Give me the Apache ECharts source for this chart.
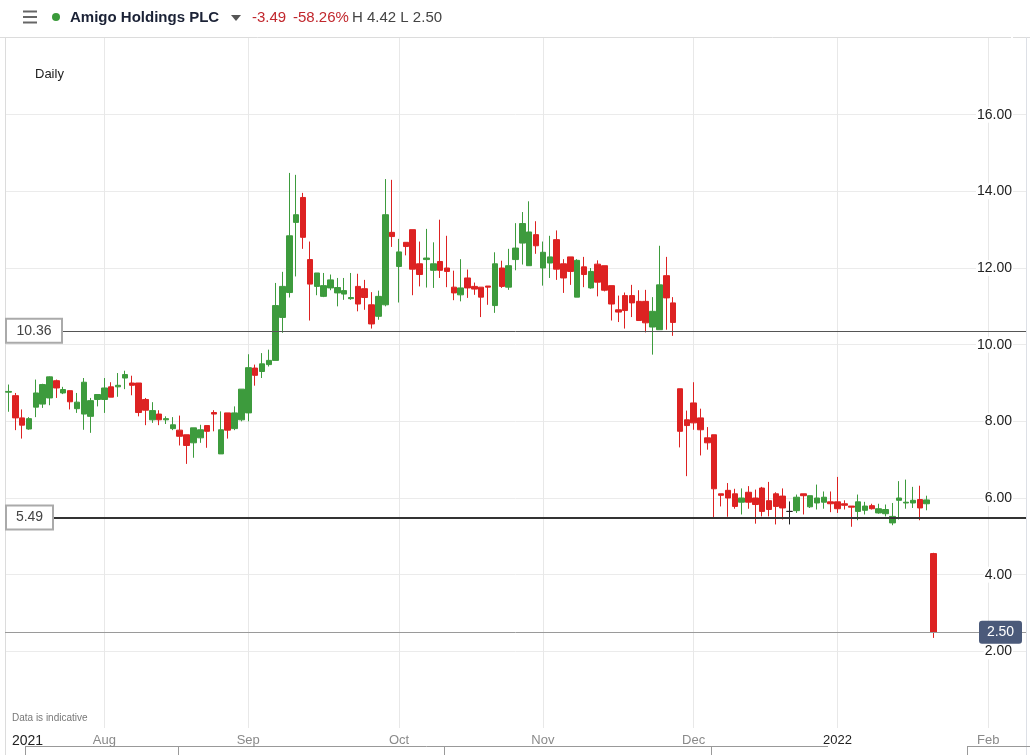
<!DOCTYPE html>
<html><head><meta charset="utf-8">
<script src="https://cdn.jsdelivr.net/npm/echarts@6/dist/echarts.min.js"></script>
<style>html,body{margin:0;padding:0;background:#fff}#c{width:1030px;height:755px}</style>
</head><body><div id="c"></div>
<script>
// ---- data ----
const instrument = 'Amigo Holdings PLC';
const changeAbs = '-3.49';
const changePct = '-58.26%';
const dayHigh = '4.42';
const dayLow = '2.50';
const holidays = ['2021-08-30', '2021-12-27', '2021-12-28', '2022-01-03'];
const firstTradeDate = '2021-07-13';
const lastTradeDate = '2022-01-24';
const futureDates = ['2022-01-25','2022-01-26','2022-01-27','2022-01-28','2022-01-29','2022-01-30','2022-01-31',
  '2022-02-01','2022-02-02','2022-02-03','2022-02-04','2022-02-05','2022-02-06'];
const monthNames = ['Jan','Feb','Mar','Apr','May','Jun','Jul','Aug','Sep','Oct','Nov','Dec'];
const yTicks = [2, 4, 6, 8, 10, 12, 14, 16];
const priceLevels = [10.36, 5.49, 2.50];
// [open, close, low, high]
const ohlc = [
 [8.76,8.78,8.25,8.96],[8.67,8.09,7.77,8.74],[8.09,7.90,7.55,8.31],[7.80,8.07,7.78,8.11],[8.37,8.74,8.11,9.09],
 [8.45,8.96,8.35,8.98],[8.61,9.16,8.42,9.17],[9.06,8.87,8.61,9.09],[8.74,8.83,8.71,8.90],[8.80,8.51,8.31,8.80],
 [8.33,8.50,8.22,8.74],[8.19,9.02,7.78,9.13],[8.13,8.54,7.70,8.61],[8.57,8.70,8.39,8.70],[8.57,8.87,8.22,9.13],
 [8.90,8.63,8.63,9.02],[8.90,8.94,8.64,9.26],[9.13,9.22,8.84,9.32],[9.00,8.94,8.68,9.19],[9.00,8.23,8.13,9.00],
 [8.57,8.29,7.90,8.61],[8.04,8.28,7.96,8.50],[8.19,8.04,7.90,8.29],[8.04,8.07,7.93,8.13],[7.81,7.91,7.77,8.11],
 [7.77,7.61,7.37,8.15],[7.65,7.37,6.89,7.65],[7.44,7.83,7.05,7.83],[7.57,7.78,7.44,7.91],[7.89,7.74,7.31,7.89],
 [8.23,8.19,7.74,8.29],[7.15,7.78,7.15,8.26],[8.22,7.77,7.55,8.22],[7.81,8.22,7.77,8.39],[8.04,8.84,8.00,8.84],
 [8.22,9.40,8.00,9.75],[9.39,9.20,8.93,9.48],[9.30,9.50,9.13,9.78],[9.48,9.59,9.43,9.87],[9.59,11.02,9.59,11.61],
 [10.71,11.52,10.31,11.90],[11.36,12.84,11.23,14.48],[13.19,13.39,11.78,14.43],[13.84,12.80,12.50,13.96],[12.22,11.58,10.63,12.69],
 [11.52,11.87,11.29,11.87],[11.26,11.54,11.24,11.87],[11.48,11.69,11.42,11.83],[11.35,11.49,11.00,11.74],[11.32,11.41,11.17,11.74],
 [11.20,11.23,11.17,11.87],[11.52,11.06,10.87,11.85],[11.46,11.23,10.91,11.69],[11.04,10.54,10.42,11.37],[10.74,11.26,10.65,11.41],
 [11.04,13.39,11.00,14.32],[12.93,12.82,12.55,14.30],[12.04,12.42,11.10,12.76],[12.67,12.56,12.33,12.67],[13.00,11.97,11.29,13.00],
 [12.11,11.83,11.52,12.69],[12.22,12.26,11.49,13.02],[11.94,12.11,11.48,12.67],[12.17,11.94,11.74,13.26],[12.00,11.91,11.50,12.84],
 [11.50,11.35,11.16,11.93],[11.30,11.48,11.13,12.23],[11.74,11.48,11.22,11.96],[11.52,11.45,11.30,11.62],[11.50,11.24,10.72,11.50],
 [11.53,11.50,11.04,11.53],[11.02,12.11,10.83,12.41],[12.00,11.52,11.48,12.19],[11.50,12.06,11.43,12.50],[12.22,12.52,11.94,13.17],
 [12.65,13.16,12.09,13.46],[12.06,12.94,12.06,13.74],[12.87,12.58,12.37,13.22],[12.00,12.41,11.54,12.69],[12.13,12.29,11.74,12.84],
 [12.74,11.97,11.69,12.98],[12.11,11.74,11.35,12.23],[12.29,11.91,11.56,12.29],[11.24,12.20,11.24,12.23],[12.03,11.83,11.50,12.29],
 [11.48,11.91,11.46,12.00],[12.10,11.63,11.26,12.20],[12.06,11.42,11.39,12.06],[11.54,11.06,10.63,11.54],[10.91,10.85,10.59,11.28],
 [11.28,10.89,10.42,11.36],[11.28,11.09,10.72,11.56],[11.13,10.63,10.63,11.42],[11.13,10.57,10.32,11.43],[10.46,10.87,9.74,11.24],
 [10.39,11.56,10.39,12.58],[11.80,11.22,10.39,12.29],[11.09,10.58,10.23,11.24],[8.85,7.74,7.32,8.85],[8.04,7.89,6.57,8.28],
 [8.48,7.96,7.78,9.02],[8.09,7.78,7.11,8.33],[7.57,7.44,7.26,7.85],[7.65,6.24,5.46,7.65],[6.11,6.07,5.78,6.11],
 [6.20,6.00,5.51,6.39],[6.11,5.78,5.72,6.24],[5.89,6.00,5.57,6.25],[6.15,5.89,5.72,6.31],[6.00,5.83,5.33,6.22],
 [6.26,5.65,5.52,6.29],[5.93,5.70,5.52,6.42],[6.11,5.78,5.31,6.15],[6.05,5.74,5.44,6.25],[5.65,5.65,5.31,5.91],
 [5.67,6.02,5.61,6.09],[6.11,6.06,5.57,6.11],[5.77,6.06,5.74,6.06],[5.87,6.00,5.70,6.35],[5.89,6.02,5.72,6.17],
 [5.90,5.85,5.63,6.17],[5.90,5.72,5.61,6.55],[5.85,5.81,5.70,5.94],[5.79,5.76,5.25,5.79],[5.65,5.90,5.42,6.09],
 [5.68,5.79,5.57,5.90],[5.80,5.72,5.70,5.85],[5.61,5.72,5.59,5.85],[5.59,5.70,5.52,5.83],[5.35,5.52,5.29,5.87],
 [5.94,6.00,5.44,6.44],[5.87,5.89,5.72,6.48],[5.87,5.94,5.74,6.29],[5.96,5.74,5.42,6.32],[5.85,5.95,5.68,6.06],
 [4.55,2.50,2.35,4.57]
];

// ---- categories (trading calendar) ----
function iso(d){return d.toISOString().slice(0,10);}
function tradingDays(from, to){
  const out=[]; const d=new Date(from+'T00:00:00Z'); const end=new Date(to+'T00:00:00Z');
  while(d<=end){const wd=d.getUTCDay(); const s=iso(d);
    if(wd!==0 && wd!==6 && holidays.indexOf(s)<0) out.push(s);
    d.setUTCDate(d.getUTCDate()+1);}
  return out;
}
const tradeDates = tradingDays(firstTradeDate, lastTradeDate);
const dates = tradeDates.concat(futureDates);

function isMonthStart(i){
  if(i===0) return false;
  return dates[i].slice(0,7)!==dates[i-1].slice(0,7);
}
function monthLabel(s){
  const m=+s.slice(5,7);
  return m===1 ? '{y|'+s.slice(0,4)+'}' : '{m|'+monthNames[m-1]+'}';
}

const UP='#3d9b3d', DOWN='#dd2222';
const candleData = ohlc.map(function(r){
  if(r[0]===r[1]) return {value:r, itemStyle:{color:'#222',color0:'#222',borderColor:'#222',borderColor0:'#222'}};
  return r;
});

const FONT='"Liberation Sans", Arial, sans-serif';
const chart = echarts.init(document.getElementById('c'), null, {renderer:'canvas'});
const grid = {left:5, right:4, top:38, bottom:27};
chart.setOption({
  animation:false,
  backgroundColor:'#fff',
  textStyle:{fontFamily:FONT},
  grid: grid,
  xAxis:{
    type:'category', data:dates, boundaryGap:true,
    axisLine:{show:false}, axisTick:{show:false},
    axisLabel:{
      interval:function(i){return isMonthStart(i);},
      formatter:function(v){return monthLabel(v);},
      margin:6,
      rich:{y:{color:'#222',fontSize:13,fontFamily:FONT},m:{color:'#8a8a8a',fontSize:13,fontFamily:FONT}}
    },
    splitLine:{show:true, alignWithLabel:true, interval:function(i){return isMonthStart(i);}, lineStyle:{color:'#e8e8e8',width:1}}
  },
  yAxis:[{
    type:'value', position:'right', min:0, max:18, interval:2, scale:false,
    axisLine:{show:false}, axisTick:{show:false}, axisLabel:{show:false},
    splitLine:{show:true, lineStyle:{color:['rgba(0,0,0,0)','#ebebeb','#ebebeb','#ebebeb','#ebebeb','#ebebeb','#ebebeb','#ebebeb','#ebebeb','rgba(0,0,0,0)']}}
  },{
    type:'value', position:'right', min:0, max:18, interval:2, z:6,
    axisLine:{show:false}, axisTick:{show:false}, splitLine:{show:false},
    axisLabel:{inside:true, margin:13, color:'#222', fontSize:14, fontFamily:FONT,
      backgroundColor:'#fff', padding:[1,1],
      formatter:function(v){return yTicks.indexOf(v)>=0 ? v.toFixed(2) : '';}}
  }],
  series:[{
    type:'candlestick', yAxisIndex:0, data:candleData, barWidth:6,
    itemStyle:{color:UP, color0:DOWN, borderColor:UP, borderColor0:DOWN, borderWidth:1},
    markLine:{
      silent:true, symbol:['none','none'], label:{show:false}, animation:false,
      data:[
        {yAxis:priceLevels[0], lineStyle:{color:'#555',width:1,type:'solid'}},
        {yAxis:priceLevels[1], lineStyle:{color:'#333',width:2,type:'solid'}},
        {yAxis:priceLevels[2], lineStyle:{color:'#9a9a9a',width:1,type:'solid'}}
      ]
    }
  }]
});

// ---- decorations (boxes placed via the axis scale) ----
const yA = chart.convertToPixel({yAxisIndex:0}, priceLevels[0]);
const yB = chart.convertToPixel({yAxisIndex:0}, priceLevels[1]);
const yC = chart.convertToPixel({yAxisIndex:0}, priceLevels[2]);
function boxLeft(y, w, txt){
  return [
    {type:'rect', z:20, shape:{x:6, y:y-12, width:w, height:24}, style:{fill:'#fff', stroke:'#aaa', lineWidth:2}},
    {type:'text', z:21, x:6+w/2, y:y, style:{text:txt, fill:'#444', font:'14px '+FONT, textAlign:'center', textVerticalAlign:'middle'}}
  ];
}
const gfx = [
  // header
  {type:'line', shape:{x1:0,y1:37.5,x2:1030,y2:37.5}, style:{stroke:'#dcdcdc',lineWidth:1}},
  {type:'line', shape:{x1:23,y1:11.5,x2:37,y2:11.5}, style:{stroke:'#666',lineWidth:2}},
  {type:'line', shape:{x1:23,y1:17,x2:37,y2:17}, style:{stroke:'#666',lineWidth:2}},
  {type:'line', shape:{x1:23,y1:22.5,x2:37,y2:22.5}, style:{stroke:'#666',lineWidth:2}},
  {type:'circle', shape:{cx:56,cy:17,r:4}, style:{fill:'#3a9a3a'}},
  {type:'text', x:70, y:18, style:{text:instrument, fill:'#1b2236', font:'bold 15px '+FONT, textVerticalAlign:'middle'}},
  {type:'polygon', shape:{points:[[231,15],[241,15],[236,21]]}, style:{fill:'#555'}},
  {type:'text', x:252, y:18, style:{text:changeAbs, fill:'#c1272d', font:'15px '+FONT, textVerticalAlign:'middle'}},
  {type:'text', x:293, y:18, style:{text:changePct, fill:'#c1272d', font:'15px '+FONT, textVerticalAlign:'middle'}},
  {type:'text', x:352, y:18, style:{text:'H '+dayHigh+' L '+dayLow, fill:'#444', font:'15px '+FONT, textVerticalAlign:'middle'}},
  // borders
  {type:'line', shape:{x1:5.5,y1:37,x2:5.5,y2:755}, style:{stroke:'#dcdcdc',lineWidth:1}},
  {type:'line', shape:{x1:1026.5,y1:37,x2:1026.5,y2:755}, style:{stroke:'#dde0e6',lineWidth:1}},
  // texts
  {type:'text', x:35, y:74, style:{text:'Daily', fill:'#222', font:'13px '+FONT, textVerticalAlign:'middle'}},
  {type:'text', x:12, y:718, style:{text:'Data is indicative', fill:'#777', font:'10px '+FONT, textVerticalAlign:'middle'}},
  {type:'text', x:12, y:741, style:{text:'2021', fill:'#222', font:'14px '+FONT, textVerticalAlign:'middle'}},
  // bottom navigator edge
  {type:'line', shape:{x1:25,y1:746.5,x2:828,y2:746.5}, style:{stroke:'#999',lineWidth:1}},
  {type:'line', shape:{x1:25.5,y1:746,x2:25.5,y2:755}, style:{stroke:'#999',lineWidth:1}},
  {type:'line', shape:{x1:178.5,y1:746,x2:178.5,y2:755}, style:{stroke:'#999',lineWidth:1}},
  {type:'line', shape:{x1:444.5,y1:746,x2:444.5,y2:755}, style:{stroke:'#999',lineWidth:1}},
  {type:'line', shape:{x1:711.5,y1:746,x2:711.5,y2:755}, style:{stroke:'#999',lineWidth:1}},
  {type:'line', shape:{x1:967.5,y1:746,x2:967.5,y2:755}, style:{stroke:'#999',lineWidth:1}},
  {type:'line', shape:{x1:967,y1:746.5,x2:1030,y2:746.5}, style:{stroke:'#999',lineWidth:1}},
  // right price tag
  {type:'rect', z:20, shape:{x:979, y:yC-11.5, width:43, height:23, r:3}, style:{fill:'#4b5a7a'}},
  {type:'text', z:21, x:1000.5, y:yC, style:{text:priceLevels[2].toFixed(2), fill:'#fff', font:'14px '+FONT, textAlign:'center', textVerticalAlign:'middle'}}
].concat(boxLeft(yA, 56, priceLevels[0].toFixed(2))).concat(boxLeft(yB, 47, priceLevels[1].toFixed(2)));
chart.setOption({graphic:{elements:gfx}});
</script>
</body></html>
